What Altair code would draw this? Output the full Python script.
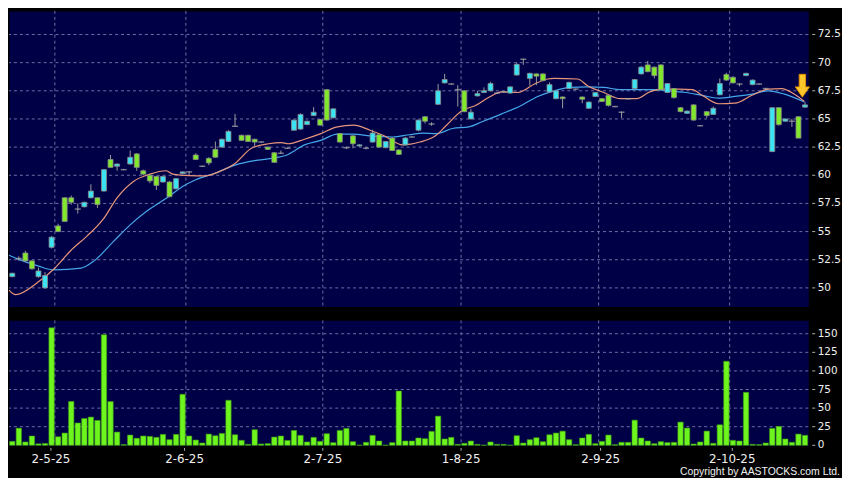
import altair as alt
import pandas as pd

# ---------------- data ----------------
opens = [51.0, 52.6, 53.1, 52.4, 51.0, 50.0, 53.6, 55.5, 58.0, 58.0,
         57.0, 57.2, 58.0, 58.0, 58.6, 61.4, 60.8, 60.5, 61.0, 61.9,
         60.4, 60.0, 59.9, 59.4, 59.4, 58.8, 60.15, 60.3, 61.8, 60.8,
         61.5, 62.3, 62.5, 63.0, 64.35, 63.55, 63.55, 63.2, 62.95, 62.5,
         62.0, 61.95, 62.4, 64.0, 64.1, 64.5, 65.3, 64.95, 67.6, 65.1,
         63.7, 62.45, 63.5, 62.6, 62.4, 62.95, 63.6, 62.45, 63.3, 62.25,
         62.7, 63.4, 64.0, 65.2, 64.55, 66.3, 68.2, 68.1, 67.6, 67.5,
         65.0, 67.05, 67.35, 67.5, 67.3, 67.4, 67.3, 68.9, 70.3, 68.6,
         69.0, 69.0, 67.4, 66.8, 66.95, 67.7, 67.65, 66.95, 65.95, 67.0,
         66.8, 67.1, 66.1, 65.6, 66.8, 67.7, 69.0, 69.8, 69.6, 69.8,
         67.35, 67.7, 66.0, 65.5, 66.25, 64.4, 65.65, 65.4, 67.15, 68.95,
         68.7, 68.1, 68.85, 68.05, 68.1, 67.7, 62.1, 66.0, 64.8, 64.8,
         65.2, 66.05]
highs = [51.35, 52.8, 53.3, 52.45, 51.8, 51.4, 54.6, 55.7, 58.05, 58.2,
         57.5, 57.65, 59.2, 58.05, 60.55, 61.8, 61.05, 60.55, 62.2, 61.95,
         60.5, 60.05, 59.95, 59.95, 59.5, 59.75, 60.35, 60.35, 61.95, 60.85,
         61.6, 63.0, 63.25, 64.0, 65.45, 63.6, 63.6, 63.25, 63.0, 62.55,
         62.05, 62.2, 62.45, 64.95, 65.5, 64.85, 66.05, 65.0, 67.65, 65.95,
         63.75, 62.55, 63.55, 62.75, 62.5, 64.05, 63.65, 63.05, 63.35, 62.3,
         63.4, 63.45, 64.95, 65.25, 64.7, 68.1, 69.0, 68.15, 68.0, 67.55,
         65.9, 67.5, 67.8, 68.3, 67.35, 67.45, 67.9, 70.0, 70.35, 69.1,
         69.05, 69.05, 68.25, 67.55, 67.0, 68.3, 67.7, 67.0, 66.55, 67.4,
         66.85, 67.15, 66.15, 65.65, 66.85, 68.55, 69.7, 70.15, 69.65, 69.85,
         68.2, 67.75, 66.05, 65.75, 66.3, 64.45, 65.7, 66.1, 68.6, 69.1,
         68.8, 68.15, 69.1, 68.5, 68.15, 67.75, 66.0, 66.05, 65.05, 65.0,
         65.25, 66.5]
lows = [50.95, 52.4, 52.3, 51.6, 50.9, 49.95, 53.5, 54.95, 55.9, 57.4,
        56.6, 57.15, 57.95, 57.1, 58.55, 60.65, 60.4, 60.45, 60.95, 60.4,
        60.0, 59.3, 58.7, 59.35, 58.05, 58.75, 60.1, 60.0, 61.35, 60.75,
        60.9, 61.55, 62.45, 62.95, 64.3, 63.05, 62.95, 62.6, 62.9, 62.25,
        61.1, 61.9, 62.35, 63.95, 64.05, 64.45, 65.25, 64.4, 64.85, 65.05,
        62.9, 62.35, 62.4, 62.55, 62.3, 62.9, 62.45, 62.4, 62.15, 61.8,
        62.65, 63.35, 63.9, 64.6, 64.4, 66.25, 68.15, 68.05, 66.1, 65.6,
        64.95, 67.0, 67.3, 67.45, 67.25, 67.35, 67.25, 68.85, 69.8, 67.95,
        68.0, 68.35, 67.35, 66.75, 65.95, 67.65, 67.6, 66.4, 65.9, 66.95,
        66.5, 66.1, 66.05, 65.1, 66.75, 67.65, 68.95, 69.15, 68.6, 67.55,
        67.3, 66.8, 65.6, 65.45, 64.85, 64.35, 65.1, 65.35, 67.1, 68.4,
        68.15, 67.9, 68.8, 68.0, 68.05, 67.65, 62.1, 64.4, 64.75, 64.3,
        63.3, 66.0]
closes = [51.3, 52.6, 52.4, 51.7, 51.5, 51.1, 54.5, 55.0, 55.9, 57.6,
          57.0, 57.6, 58.6, 57.4, 60.5, 60.7, 61.0, 60.5, 61.6, 60.7,
          60.1, 59.5, 59.1, 59.9, 58.1, 59.7, 60.3, 60.3, 61.4, 60.8,
          61.1, 61.6, 63.2, 63.9, 64.35, 63.1, 63.0, 62.95, 62.95, 62.3,
          61.15, 61.95, 62.4, 64.9, 65.4, 64.8, 65.6, 64.45, 64.9, 65.9,
          62.95, 62.45, 62.8, 62.7, 62.4, 63.75, 62.5, 63.0, 62.2, 61.85,
          63.3, 63.4, 64.9, 64.8, 64.55, 67.5, 68.5, 68.1, 67.6, 65.65,
          65.6, 67.25, 67.5, 68.15, 67.3, 67.4, 67.85, 69.85, 70.3, 69.05,
          68.8, 68.4, 68.05, 67.5, 66.8, 68.25, 67.65, 66.75, 66.5, 67.35,
          66.55, 66.2, 66.1, 65.6, 66.8, 68.5, 69.6, 69.2, 68.85, 67.6,
          68.15, 66.9, 65.65, 65.7, 64.9, 64.4, 65.3, 65.95, 68.15, 68.45,
          68.2, 68.1, 69.05, 68.45, 68.1, 67.7, 66.0, 64.5, 65.0, 64.8,
          63.3, 66.25]
volumes = [5.3, 23, 4.5, 12.5, 2, 2.5, 158, 11.5, 16.5, 59,
           30, 36, 38, 33.5, 148.7, 58.8, 17.8, 1, 13.8, 9.4,
           12.5, 12, 10.7, 14.7, 7.6, 14.7, 68.6, 12.5, 7.1, 3.1,
           15.1, 12.9, 16, 60.5, 14.2, 6.7, 1.3, 21, 1.8, 2.2,
           11.1, 12.5, 6.5, 20, 13.4, 4.5, 10.7, 5.3, 15.6, 3.6,
           20, 22.7, 4.9, 0.3, 4, 13.4, 5.8, 0.3, 3.6, 73,
           5.8, 5.8, 9.8, 8.9, 18.7, 39.2, 8.5, 10.7, 1.3, 2.7,
           5.8, 1.3, 0.3, 4.5, 1.3, 1.3, 0.3, 12.9, 3.1, 7.6,
           10.2, 4.9, 14.2, 16.5, 19, 7.6, 0.9, 9.8, 14.7, 2.2,
           5.3, 13.8, 0.9, 4, 4, 33.8, 9.8, 5.8, 2.2, 4.9,
           3.6, 4, 31.2, 23.2, 1.8, 4.5, 19.1, 2.7, 27.6, 113,
           6.7, 5.8, 71.2, 1.3, 0.9, 3.1, 22.7, 25.4, 8.5, 4,
           15.1, 13.4]

# moving averages read at sample positions (candle index, value)
ma_fast_idx = [-0.5, 0.5, 3.9, 6.4, 8.9, 11.4, 14.0, 16.0, 18.5, 21.0, 23.5, 24.5,
               27.0, 29.5, 31.5, 34.0, 36.5, 39.1, 41.1, 42.1, 44.6, 47.1, 49.6,
               52.1, 54.6, 56.6, 59.6, 62.2, 64.7, 66.2, 68.7, 70.7, 72.7, 74.7,
               77.2, 79.7, 81.7, 82.7, 86.3, 87.8, 90.3, 92.8, 95.3, 97.3, 99.3,
               101.8, 103.8, 105.3, 107.8, 110.3, 112.9, 115.4, 117.4, 119.4, 120.9]
ma_fast_val = [49.8, 49.4, 50.5, 51.7, 53.3, 54.6, 56.2, 58.0, 59.45, 60.1, 60.4, 60.1,
               59.97, 59.95, 60.3, 61.05, 62.4, 62.8, 62.9, 62.8, 63.2, 63.7, 64.3,
               64.45, 64.0, 63.55, 62.7, 62.95, 63.55, 64.4, 65.75, 66.2, 66.9, 67.4,
               67.35, 68.1, 68.55, 68.6, 68.55, 67.95, 67.35, 66.8, 66.8, 67.4, 67.65,
               67.65, 67.6, 67.1, 66.35, 66.4, 67.1, 67.65, 67.7, 67.2, 66.55]
ma_slow_idx = [-0.5, 0.9, 3.9, 6.4, 10.5, 12.5, 15.5, 18.0, 20.5, 23.5, 26.0, 28.0,
               31.0, 34.0, 37.0, 39.6, 42.1, 44.6, 47.1, 49.6, 52.1, 54.6, 58.1,
               60.6, 62.7, 64.7, 67.2, 69.7, 71.7, 74.7, 77.7, 80.2, 82.7, 85.2,
               87.8, 90.3, 92.8, 95.3, 97.8, 100.3, 102.8, 105.3, 107.8, 110.3,
               112.9, 115.4, 117.9, 120.9]
ma_slow_val = [52.9, 52.55, 51.95, 51.6, 51.75, 52.4, 54.15, 55.6, 56.8, 57.95, 59.0, 59.6,
               60.2, 60.9, 61.3, 61.5, 61.85, 62.7, 63.1, 63.65, 63.65, 63.5, 63.4,
               63.6, 63.75, 63.7, 64.15, 64.3, 64.75, 65.45, 66.2, 67.0, 67.5, 67.8,
               67.85, 67.8, 67.6, 67.6, 67.6, 67.5, 67.35, 67.1, 66.85, 67.0,
               67.2, 67.5, 67.2, 66.5]

month_labels = ["2-5-25", "2-6-25", "2-7-25", "1-8-25", "2-9-25", "2-10-25"]
month_tick_pos = [5.9, 26.3, 47.4, 68.5, 89.8, 109.9]
month_grid_pos = [6.5, 26.5, 47.4, 68.5, 89.5, 109.5]
price_ticks = [50, 52.5, 55, 57.5, 60, 62.5, 65, 67.5, 70, 72.5]
volume_ticks = [0, 25, 50, 75, 100, 125, 150]
marker_index = [120.6]
marker_level = [67.95]
copyright_text = ["Copyright by AASTOCKS.com Ltd."]

# ---------------- tables ----------------
n = len(closes)
candles = pd.DataFrame({"i": list(range(n)), "open": opens, "high": highs,
                        "low": lows, "close": closes, "vol": volumes})
ma_fast = pd.DataFrame({"i": ma_fast_idx, "v": ma_fast_val})
ma_slow = pd.DataFrame({"i": ma_slow_idx, "v": ma_slow_val})
vgrid = pd.DataFrame({"g": month_grid_pos})
months = pd.DataFrame({"p": month_tick_pos, "label": month_labels})
pticks = pd.DataFrame({"v": price_ticks})
vticks = pd.DataFrame({"v": volume_ticks})
vol_grid = pd.DataFrame({"v": volume_ticks[1:]})
marker = pd.DataFrame({"i": marker_index, "v": marker_level})

# ---------------- style ----------------
W = 806
H_PRICE = 298
H_VOL = 126
NAVY = "#000046"
GRID = "#6e6ea4"
CYAN = "#3ce3f2"
GREEN = "#82e82c"
VOLG = "#6ef51e"
LABEL = "#f0f0f0"
TICK = "#b0b0b0"
FONT = "DejaVu Sans"

xs = alt.Scale(domain=[-0.5, n - 0.5], nice=False, zero=False, padding=0)
ps = alt.Scale(domain=[48.35, 74.59], nice=False, zero=False, padding=0)
vs = alt.Scale(domain=[0, 168], nice=False, zero=False, padding=0)
x_none = alt.X("i:Q", scale=xs, axis=None)


def py(field):
    return alt.Y(field, scale=ps, axis=None)


def vy(field):
    return alt.Y(field, scale=vs, axis=None)


# ---------------- price panel ----------------
p_hgrid = alt.Chart(pticks).mark_rule(color=GRID, strokeDash=[3, 3], strokeWidth=1).encode(
    y=py("v:Q"))
p_vgrid = alt.Chart(vgrid).mark_rule(color=GRID, strokeDash=[3, 3], strokeWidth=1).encode(
    x=alt.X("g:Q", scale=xs, axis=None))
p_ticks = alt.Chart(pticks).mark_rule(color=TICK, strokeWidth=1).encode(
    y=py("v:Q"), x=alt.value(W + 4), x2=alt.value(W + 7))
p_labels = alt.Chart(pticks).mark_text(align="left", baseline="middle", font=FONT,
                                       fontSize=10.5, color=LABEL).encode(
    y=py("v:Q"), x=alt.value(W + 9.5), text=alt.Text("v:Q", format=".1~f"))
wicks = alt.Chart(candles).mark_rule(color="#9c9c9c", strokeWidth=1).encode(
    x=x_none, y=py("low:Q"), y2="high:Q")
bodies = alt.Chart(candles).transform_filter("datum.open != datum.close").mark_bar(
    size=5, stroke="#8a8a8a", strokeWidth=0.8
).encode(
    x=x_none, y=py("open:Q"), y2="close:Q",
    color=alt.condition("datum.close > datum.open", alt.value(CYAN), alt.value(GREEN)),
)
dojis = alt.Chart(candles).transform_filter("datum.open == datum.close").mark_tick(
    orient="horizontal", size=6, thickness=1.5, color="#a8a8a8"
).encode(x=x_none, y=py("close:Q"))
line_fast = alt.Chart(ma_fast).mark_line(color="#e8967a", strokeWidth=1.2, clip=True,
                                         interpolate="monotone").encode(
    x=x_none, y=py("v:Q"))
line_slow = alt.Chart(ma_slow).mark_line(color="#45a6ea", strokeWidth=1.2, clip=True,
                                         interpolate="monotone").encode(
    x=x_none, y=py("v:Q"))
arrow_path = "M -0.28 -1 L 0.28 -1 L 0.28 0.1 L 0.62 0.1 L 0 1 L -0.62 0.1 L -0.28 0.1 Z"
arrow = alt.Chart(marker).mark_point(shape=arrow_path, filled=True, size=529,
                                     fill="#ffc62a", stroke="#e08e00", strokeWidth=1,
                                     opacity=1).encode(
    x=x_none, y=py("v:Q"))

price = alt.layer(p_hgrid, p_vgrid, line_slow, line_fast, wicks, bodies, dojis, arrow,
                  p_ticks, p_labels).properties(width=W, height=H_PRICE)

# ---------------- volume panel ----------------
v_hgrid = alt.Chart(vol_grid).mark_rule(color=GRID, strokeDash=[3, 3], strokeWidth=1).encode(
    y=vy("v:Q"))
v_vgrid = alt.Chart(vgrid).mark_rule(color=GRID, strokeDash=[3, 3], strokeWidth=1).encode(
    x=alt.X("g:Q", scale=xs, axis=None))
v_ticks = alt.Chart(vticks).mark_rule(color=TICK, strokeWidth=1).encode(
    y=vy("v:Q"), x=alt.value(W + 4), x2=alt.value(W + 7))
v_labels = alt.Chart(vticks).mark_text(align="left", baseline="middle", font=FONT,
                                       fontSize=10.5, color=LABEL).encode(
    y=vy("v:Q"), x=alt.value(W + 9.5), text=alt.Text("v:Q", format="d"))
vol_bars = alt.Chart(candles).mark_bar(size=5.4, color=VOLG, stroke="#3d9a12",
                                       strokeWidth=0.6).encode(
    x=x_none, y=vy("vol:Q"))
m_ticks = alt.Chart(months).mark_rule(color=TICK, strokeWidth=1).encode(
    x=alt.X("p:Q", scale=xs, axis=None), y=alt.value(H_VOL + 2.7), y2=alt.value(H_VOL + 5.5))
m_labels = alt.Chart(months).mark_text(align="center", baseline="top", font=FONT,
                                       fontSize=12, color=LABEL).encode(
    x=alt.X("p:Q", scale=xs, axis=None), y=alt.value(H_VOL + 8.5), text="label:N")
copyright_mark = alt.Chart(pd.DataFrame({"t": copyright_text})).mark_text(
    align="right", baseline="alphabetic", font="Liberation Sans", fontSize=10.5,
    color=LABEL
).encode(text="t:N", x=alt.value(838), y=alt.value(155.5))

volume = alt.layer(v_hgrid, v_vgrid, vol_bars, v_ticks, v_labels, m_ticks, m_labels,
                   copyright_mark).properties(width=W, height=H_VOL)

chart = alt.vconcat(price, volume, spacing=12).properties(
    padding={"left": 0, "top": 0, "right": 0, "bottom": 0}
).configure(background="#000000").configure_view(fill=NAVY, stroke="transparent")

chart.save("out.html", embed_options={"renderer": "svg", "actions": False})
